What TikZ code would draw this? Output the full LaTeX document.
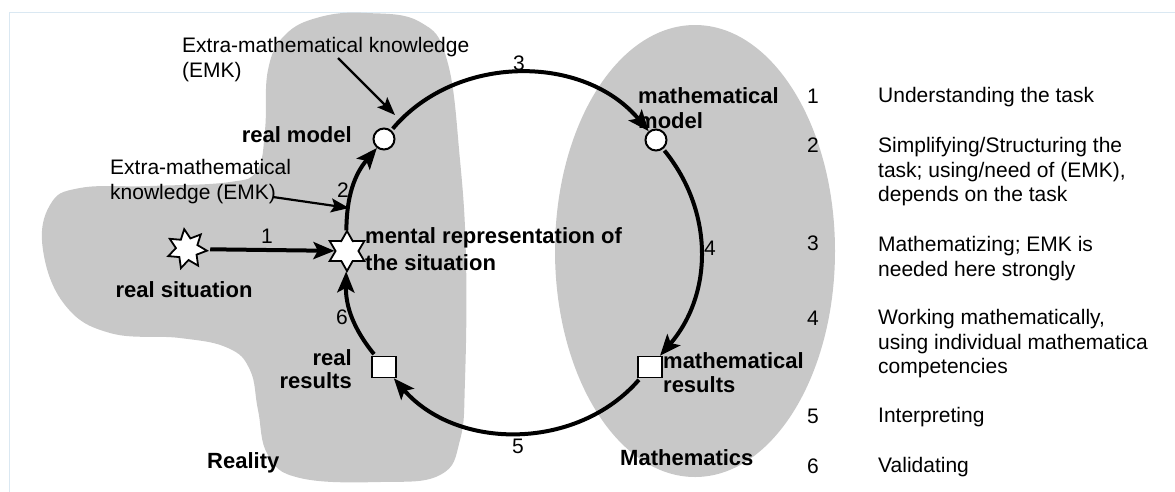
\documentclass[tikz,border=0pt]{standalone}
\usepackage{fontspec}
\setmainfont{Liberation Sans}
\usepackage{tikz}
\usetikzlibrary{arrows.meta, positioning, shapes.geometric}
\definecolor{blobgray}{RGB}{200,200,200}
\definecolor{framecol}{RGB}{218,232,242}

\begin{document}
\begin{tikzpicture}[
    x=1pt, y=1pt,
    txt/.style={font=\fontsize{21}{24.5}\selectfont, inner sep=0pt, align=left},
    lbl/.style={font=\fontsize{22}{25}\selectfont\bfseries, inner sep=0pt},
    num/.style={font=\fontsize{21}{24}\selectfont, inner sep=0pt},
    cyc/.style={-{Stealth[length=21pt, width=17pt, inset=4.5pt]}, line width=4pt},
    emk/.style={-{Stealth[length=18pt, width=14pt, inset=3.5pt]}, line width=2.2pt},
    spot/.style={circle, draw, fill=white, line width=2pt,
                 minimum size=21pt, inner sep=0pt},
    res/.style={rectangle, draw, fill=white, line width=1.6pt,
                minimum width=24pt, minimum height=21pt, inner sep=0pt},
    burst/.style={star, draw, fill=white, line width=1.8pt, inner sep=0pt,
                  minimum size=40pt}
]
\useasboundingbox (0,0) rectangle (1175,-491);
\draw[framecol, line width=0.8pt] (9,-495) |- (1180,-12);

% the two regions
\fill[blobgray] plot[smooth cycle, tension=0.7] coordinates {
  (367,-13) (420,-22) (447,-60) (460,-160) (466,-260) (465,-380)
  (460,-440) (440,-475) (380,-482) (300,-478) (268,-455) (258,-410)
  (250,-370) (228,-348) (180,-338) (110,-333) (65,-305) (43,-250)
  (50,-205) (80,-188) (150,-186) (230,-182) (257,-170) (265,-130)
  (268,-70) (285,-35) (320,-17)};
\fill[blobgray] (695,-251) ellipse [x radius=140, y radius=226];

% stations of the cycle
\node[burst, star points=7, star point ratio=1.8, shape border rotate=8] (rs) at (187,-249) {};
\node[burst, star points=6, star point ratio=1.75] (mr) at (347,-251) {};
\node[spot] (rm) at (384,-139) {};
\node[spot] (mm) at (656,-140) {};
\node[res] (mres) at (650,-367) {};
\node[res] (rres) at (384,-367) {};

% labels
\node[lbl, anchor=base east] (rmlab) at (352,-142) {real model};
\node[lbl, anchor=north west, align=left] (mmlab) at (638,-87) {mathematical\\model};
\node[lbl, anchor=north west, align=left, font=\fontsize{22}{27}\selectfont\bfseries]
  (mrlab) at (365,-227) {mental representation of\\the situation};
\node[lbl, anchor=base] (rslab) at (184,-297) {real situation};
\node[lbl, anchor=north east, align=right, font=\fontsize{22}{23}\selectfont\bfseries]
  (rreslab) at (352,-349) {real\\results};
\node[lbl, anchor=north west, align=left, font=\fontsize{22}{24}\selectfont\bfseries]
  (mreslab) at (663,-352) {mathematical\\results};
\node[lbl, anchor=base west] (reality) at (207,-468) {Reality};
\node[lbl, anchor=base west] (maths) at (620,-465) {Mathematics};

% extra-mathematical knowledge
\node[txt, anchor=north west] (emk1) at (182,-37.5) {Extra-mathematical knowledge\\(EMK)};
\node[txt, anchor=north west] (emk2) at (110,-159.5) {Extra-mathematical\\knowledge (EMK)};
\coordinate (emk1from) at (338,-58);
\coordinate (emk1to) at (395,-115);
\coordinate (emk2from) at (273,-197);
\coordinate (emk2to) at (349,-208);
\draw[emk] (emk1from) -- (emk1to);
\draw[emk] (emk2from) -- (emk2to);

% the cycle
\draw[cyc, shorten <=4pt] (rs) -- (mr);
\draw[cyc] (mr) to[bend left=20] (rm);
\draw[cyc, shorten <=2pt] (rm) to[bend left=50] (mm);
\draw[cyc, shorten <=2pt] (mm) to[bend left=40] (mres);
\draw[cyc, shorten <=2pt] (mres) to[bend left=49] (rres);
\draw[cyc, shorten <=2pt] (rres) to[bend left=20] (mr);
\node[num] (c1) at (267,-236) {1};
\node[num] (c2) at (343,-190) {2};
\node[num] (c3) at (519,-63) {3};
\node[num] (c4) at (710,-248) {4};
\node[num] (c5) at (518,-446) {5};
\node[num] (c6) at (342,-317) {6};

% legend
\node[num, anchor=base west] (k1) at (807,-103) {1};
\node[num, anchor=base west] (k2) at (807,-152) {2};
\node[num, anchor=base west] (k3) at (807,-250) {3};
\node[num, anchor=base west] (k4) at (807,-325) {4};
\node[num, anchor=base west] (k5) at (807,-423) {5};
\node[num, anchor=base west] (k6) at (807,-473) {6};
\node[txt, anchor=north west] (ph1) at (878,-87.5) {Understanding the task};
\node[txt, anchor=north west] (ph2) at (878,-137.5)
  {Simplifying/Structuring the\\task; using/need of (EMK),\\depends on the task};
\node[txt, anchor=north west] (ph3) at (878,-236.5)
  {Mathematizing; EMK is\\needed here strongly};
\node[txt, anchor=north west] (ph4) at (878,-309.5)
  {Working mathematically,\\using individual mathematica\\competencies};
\node[txt, anchor=north west] (ph5) at (878,-407.5) {Interpreting};
\node[txt, anchor=north west] (ph6) at (878,-457.5) {Validating};
\end{tikzpicture}
\end{document}
